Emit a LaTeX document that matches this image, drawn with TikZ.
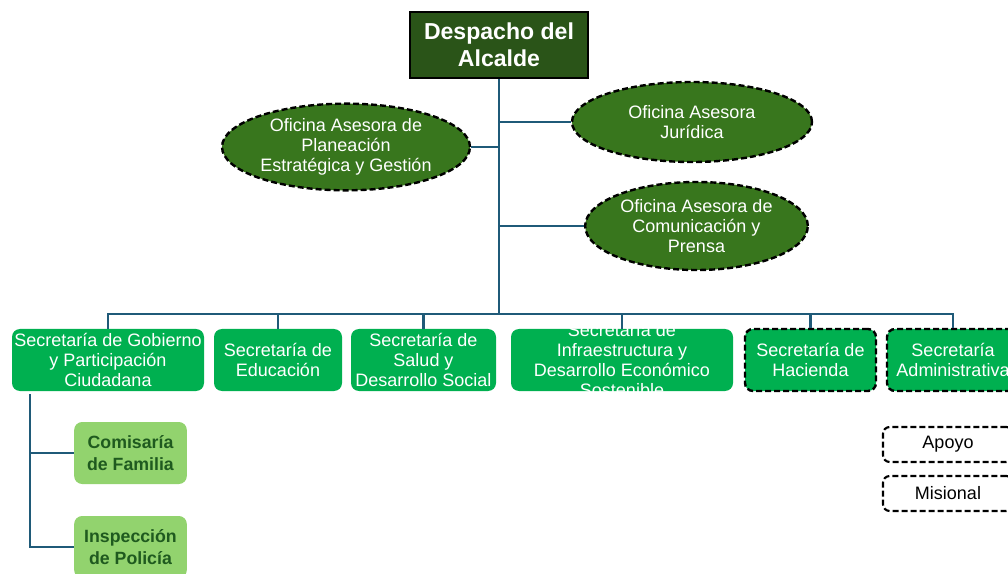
\documentclass[tikz,border=0pt]{standalone}
\usepackage{fontspec}
\setmainfont{Liberation Sans}
\usetikzlibrary{shapes.geometric}
\definecolor{despfill}{HTML}{2A5418}
\definecolor{ellfill}{HTML}{38761D}
\definecolor{secfill}{HTML}{00B050}
\definecolor{subfill}{HTML}{92D36E}
\definecolor{subtext}{HTML}{1F5A1F}
\definecolor{conn}{HTML}{1F5A78}
\tikzset{
  desp/.style={draw=black, line width=1.8pt, fill=despfill, text=white, font=\bfseries\fontsize{17.3}{20}\selectfont, align=center, inner sep=0pt, minimum width=133.5pt, minimum height=49.5pt},
  ofic/.style={ellipse, draw=black, line width=1.8pt, dash pattern=on 4.5pt off 2.25pt, fill=ellfill, text=white, font=\fontsize{13.5}{15}\selectfont, align=center, inner sep=0pt},
  sec/.style={rounded corners=6pt, fill=secfill, text=white, font=\fontsize{13.5}{15}\selectfont, align=center, inner sep=0pt, minimum height=46.5pt},
  secapoyo/.style={sec, draw=black, line width=1.8pt, dash pattern=on 4.5pt off 2.25pt},
  sectext/.style={text=white, font=\fontsize{13.5}{15}\selectfont, align=center, inner sep=0pt},
  sub/.style={rounded corners=6pt, fill=subfill, text=subtext, font=\bfseries\fontsize{13.3}{16.5}\selectfont, align=center, inner sep=0pt, minimum width=84.5pt, minimum height=46.5pt},
  legend/.style={rounded corners=5pt, draw=black, line width=1.6pt, dash pattern=on 4.5pt off 2.25pt, text=black, font=\fontsize{13.5}{15}\selectfont, inner sep=0pt, minimum width=97.5pt, minimum height=26.25pt},
  link/.style={draw=conn, line width=2pt}
}
\begin{document}
\begin{tikzpicture}[x=0.75pt,y=-0.75pt]
\clip (0,0) rectangle (1008,574);
\fill[white] (0,0) rectangle (1008,574);

\node[desp] (desp) at (499,45) {Despacho del\\Alcalde};

\node[ofic, minimum width=186pt, minimum height=65pt] (plan) at (346,147) {Oficina Asesora de\\Planeación\\Estratégica y Gestión};
\node[ofic, minimum width=180pt, minimum height=60pt] (jur) at (692,122) {Oficina Asesora\\Jurídica};
\node[ofic, minimum width=167pt, minimum height=66pt] (com) at (696.5,226) {Oficina Asesora de\\Comunicación y\\Prensa};

\node[sec, minimum width=144pt] (gob) at (108,360) {Secretaría de Gobierno\\y Participación\\Ciudadana};
\node[sec, minimum width=96pt] (edu) at (278,360) {Secretaría de\\Educación};
\node[sec, minimum width=108.75pt] (sal) at (423.5,360) {Secretaría de\\Salud y\\Desarrollo Social};
\node[sec, minimum width=166.5pt] (inf) at (622,360) {};
\node[sectext] (inftext) at (inf.center) {Secretaría de\\Infraestructura y\\Desarrollo Económico\\Sostenible};
\node[secapoyo, minimum width=98.25pt] (hac) at (810.5,360) {Secretaría de\\Hacienda};
\node[secapoyo, minimum width=99pt] (adm) at (953,360) {Secretaría\\Administrativa};

\node[sub] (comi) at (130.5,453) {Comisaría\\de Familia};
\node[sub] (insp) at (130.5,547) {Inspección\\de Policía};

\node[legend] (apoyo) at (948,444.5) {Apoyo};
\node[legend] (mis) at (948,493.5) {Misional};

% connectors
\coordinate (bus) at (499,314);
\draw[link] (desp.south) -- (bus);
\draw[link] (plan.east) -- (plan.east -| desp.south);
\draw[link] (jur.west) -- (jur.west -| desp.south);
\draw[link] (com.west) -- (com.west -| desp.south);
\draw[link] (gob.north) |- (bus);
\draw[link] (adm.north) |- (bus);
\draw[link] (edu.north) -- (edu.north |- bus);
\draw[link] (sal.north) -- (sal.north |- bus);
\draw[link] (inf.north) -- (inf.north |- bus);
\draw[link] (hac.north) -- (hac.north |- bus);

\coordinate (gstem) at (30,394);
\draw[link] (gstem) |- (insp.west);
\draw[link] (gstem |- comi.west) -- (comi.west);
\end{tikzpicture}
\end{document}
